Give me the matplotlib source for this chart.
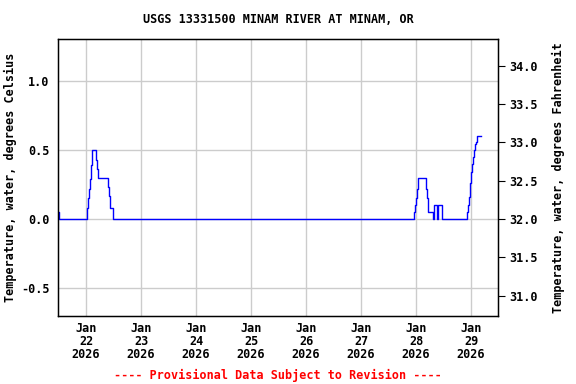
import matplotlib
matplotlib.use('Agg')
import matplotlib.pyplot as plt
import pandas as pd

# water temperature readings (deg C)
times = ['2026-01-21 11:45', '2026-01-21 12:15',
         '2026-01-22 00:30', '2026-01-22 00:45', '2026-01-22 01:15', '2026-01-22 01:45',
         '2026-01-22 02:15', '2026-01-22 02:30', '2026-01-22 04:15', '2026-01-22 04:45',
         '2026-01-22 05:15', '2026-01-22 09:30', '2026-01-22 10:00', '2026-01-22 10:30',
         '2026-01-22 11:45',
         '2026-01-27 23:00', '2026-01-27 23:30', '2026-01-28 00:00', '2026-01-28 00:30',
         '2026-01-28 00:45', '2026-01-28 04:15', '2026-01-28 04:45', '2026-01-28 05:15',
         '2026-01-28 07:15', '2026-01-28 07:45', '2026-01-28 09:00', '2026-01-28 09:30',
         '2026-01-28 11:15',
         '2026-01-28 22:15', '2026-01-28 22:45', '2026-01-28 23:15', '2026-01-28 23:45',
         '2026-01-29 00:00', '2026-01-29 00:30', '2026-01-29 01:00', '2026-01-29 01:30',
         '2026-01-29 01:45', '2026-01-29 02:15', '2026-01-29 02:45', '2026-01-29 04:30']
temps = [0.05, 0.0,
         0.08, 0.15, 0.22, 0.29,
         0.39, 0.5, 0.43, 0.36,
         0.3, 0.23, 0.17, 0.08,
         0.0,
         0.05, 0.1, 0.15, 0.22,
         0.3, 0.22, 0.15, 0.05,
         0.0, 0.1, 0.0, 0.1,
         0.0,
         0.05, 0.1, 0.16, 0.26,
         0.34, 0.4, 0.45, 0.5,
         0.54, 0.56, 0.6, 0.6]

title = 'USGS 13331500 MINAM RIVER AT MINAM, OR'
ylabel_c = 'Temperature, water, degrees Celsius'
ylabel_f = 'Temperature, water, degrees Fahrenheit'
footer = '---- Provisional Data Subject to Revision ----'

c_ticks = [-0.5, 0.0, 0.5, 1.0]
f_ticks = [31.0, 31.5, 32.0, 32.5, 33.0, 33.5, 34.0]
day_ticks = pd.date_range('2026-01-22', '2026-01-29', freq='D')

font = {'family': 'DejaVu Sans Mono', 'weight': 'bold', 'size': 8.5}

t = pd.to_datetime(times)
c_lim = (-0.703, 1.304)

fig = plt.figure(figsize=(5.76, 3.84), dpi=100)
ax = fig.add_axes([0.1007, 0.1771, 0.7639, 0.7213])
ax.plot(t, temps, color='blue', linewidth=1.0, drawstyle='steps-post')
ax.set_xlim(pd.Timestamp('2026-01-21 11:47'), pd.Timestamp('2026-01-29 11:47'))
ax.set_ylim(*c_lim)
ax.set_yticks(c_ticks)
ax.set_yticklabels(['%.1f' % v for v in c_ticks], **font)
ax.set_xticks(day_ticks)
ax.set_xticklabels(['Jan\n%d\n2026' % d.day for d in day_ticks], **font, linespacing=1.0)
ax.tick_params(axis='both', length=0, pad=6)
ax.tick_params(axis='x', pad=4)
ax.grid(True, color='#cccccc', linewidth=1.0)
ax.set_axisbelow(True)
for s in ax.spines.values():
    s.set_linewidth(1.0)
ax.set_ylabel(ylabel_c, **font)
ax.yaxis.set_label_coords(-0.093, 0.5)

ax2 = ax.twinx()
ax2.set_ylim(c_lim[0] * 1.8 + 32, c_lim[1] * 1.8 + 32)
ax2.set_yticks(f_ticks)
ax2.set_yticklabels(['%.1f' % v for v in f_ticks], **font)
ax2.tick_params(axis='y', length=5, pad=3)
ax2.set_ylabel(ylabel_f, **font)
ax2.yaxis.set_label_coords(1.122, 0.5)

fig.text(0.483, 0.95, title, ha='center', va='center', **font)
fig.text(0.483, 0.023, footer, ha='center', va='center', color='red', **font)

fig.savefig('out.png', dpi=100)
